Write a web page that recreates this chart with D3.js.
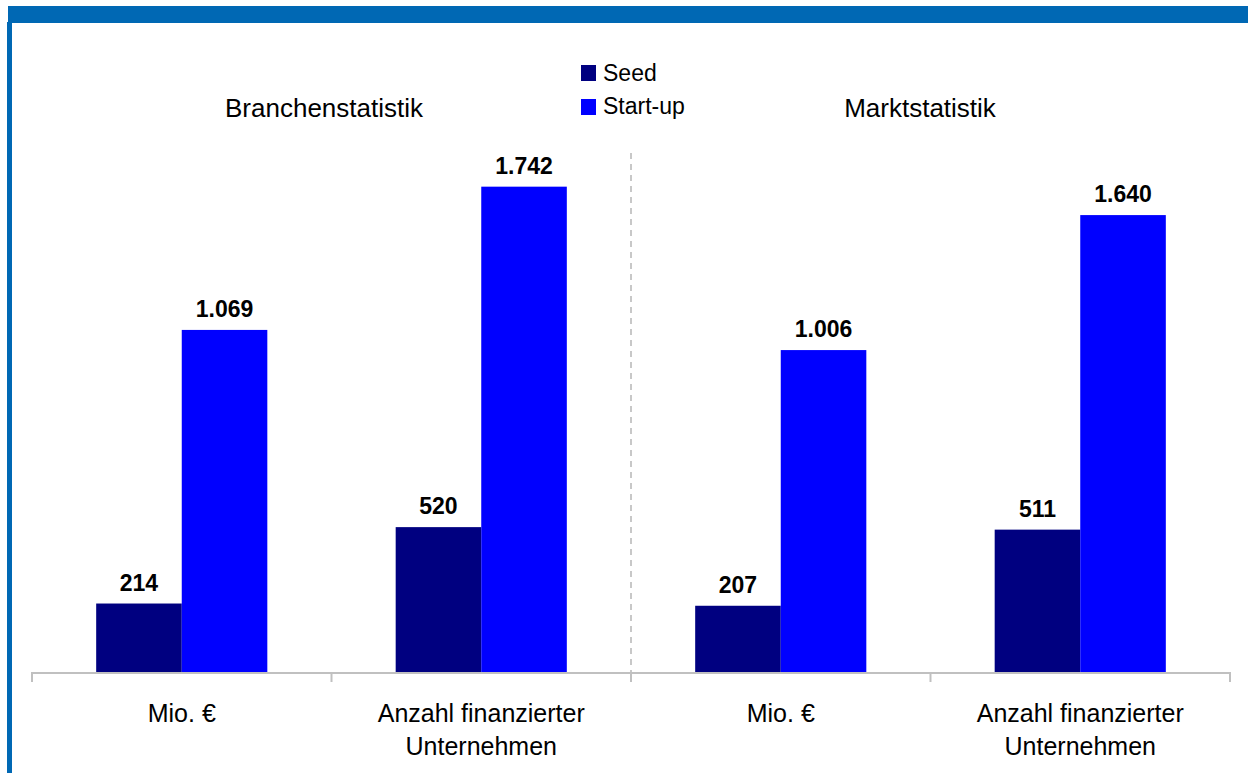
<!DOCTYPE html>
<html>
<head>
<meta charset="utf-8">
<script src="https://cdn.jsdelivr.net/npm/d3@7"></script>
<style>
  body { margin: 0; background: #fff; }
  svg { display: block; font-family: Arial, "Liberation Sans", sans-serif; }
</style>
</head>
<body>
<script>
// chart data
const categories = ["Mio. €", "Anzahl finanzierter Unternehmen", "Mio. €", "Anzahl finanzierter Unternehmen"];
const categoryLines = [["Mio. €"], ["Anzahl finanzierter", "Unternehmen"], ["Mio. €"], ["Anzahl finanzierter", "Unternehmen"]];
const units = ["mio", "anzahl", "mio", "anzahl"];
const groups = ["Branchenstatistik", "Marktstatistik"];
const seriesNames = ["Seed", "Start-up"];
const seed = [214, 520, 207, 511];
const startup = [1069, 1742, 1006, 1640];

const width = 1248;
const height = 773;
const baseY = 672;
const topY = 112;
const colors = ["#000080", "#0000ff"];

const svg = d3.select("body").append("svg").attr("width", width).attr("height", height);

// frame (blue band on top and left)
svg.append("rect").attr("x", 8).attr("y", 6).attr("width", width - 8).attr("height", 17).attr("fill", "#0068b4");
svg.append("rect").attr("x", 7).attr("y", 22).attr("width", 5).attr("height", height - 22).attr("fill", "#0068b4");

//Scales
const xScale = d3.scaleBand().domain(d3.range(categories.length)).range([32, 1230]).padding(0);
const x1 = d3.scaleBand().domain(seriesNames).range([0, xScale.bandwidth()]).paddingInner(0).paddingOuter(0.75);
const yScales = {
  mio: d3.scaleLinear().domain([0, 1750]).range([baseY, topY]),
  anzahl: d3.scaleLinear().domain([0, 2010]).range([baseY, topY])
};

const fmt = d3.formatLocale({ decimal: ",", thousands: ".", grouping: [3], currency: ["", " €"] }).format(",");

const rows = categories.map((c, i) => ({ i, unit: units[i], values: [seed[i], startup[i]] }));

// bars
const g = svg.selectAll(".cat").data(rows).enter().append("g")
  .attr("class", "cat")
  .attr("transform", (d) => "translate(" + xScale(d.i) + ",0)");

g.selectAll("rect.bar")
  .data((d) => d.values.map((v, k) => ({ v, k, unit: d.unit })))
  .enter()
  .append("rect")
  .attr("class", "bar")
  .attr("x", (d) => x1(seriesNames[d.k]))
  .attr("width", x1.bandwidth())
  .attr("y", (d) => yScales[d.unit](d.v))
  .attr("height", (d) => baseY - yScales[d.unit](d.v))
  .attr("fill", (d) => colors[d.k]);

g.selectAll("text.val")
  .data((d) => d.values.map((v, k) => ({ v, k, unit: d.unit })))
  .enter()
  .append("text")
  .attr("class", "val")
  .attr("x", (d) => x1(seriesNames[d.k]) + x1.bandwidth() / 2)
  .attr("y", (d) => yScales[d.unit](d.v) - 13)
  .attr("text-anchor", "middle")
  .attr("font-size", 23)
  .attr("font-weight", "bold")
  .attr("fill", "#000")
  .text((d) => fmt(d.v));

// x axis
svg.append("line")
  .attr("x1", xScale.range()[0]).attr("x2", xScale.range()[1])
  .attr("y1", baseY + 1).attr("y2", baseY + 1)
  .attr("stroke", "#c0c0c0").attr("stroke-width", 2);

const tickXs = d3.range(categories.length).map((i) => xScale(i)).concat([xScale.range()[1]]);
svg.selectAll(".tick").data(tickXs).enter().append("line")
  .attr("class", "tick")
  .attr("x1", (d) => d).attr("x2", (d) => d)
  .attr("y1", baseY).attr("y2", baseY + 10)
  .attr("stroke", "#c0c0c0").attr("stroke-width", 2);

svg.selectAll(".catlabel").data(rows).enter().append("text")
  .attr("class", "catlabel")
  .attr("text-anchor", "middle")
  .attr("font-size", 25)
  .attr("fill", "#000")
  .attr("transform", (d) => "translate(" + (xScale(d.i) + xScale.bandwidth() / 2) + ",722)")
  .selectAll("tspan")
  .data((d) => categoryLines[d.i])
  .enter()
  .append("tspan")
  .attr("x", 0)
  .attr("dy", (d, k) => (k === 0 ? 0 : 33))
  .text((d) => d);

// dashed separator between the two statistics
const sepX = xScale(2);
svg.append("line")
  .attr("x1", sepX).attr("x2", sepX)
  .attr("y1", 153).attr("y2", baseY)
  .attr("stroke", "#c8c8c8").attr("stroke-width", 2)
  .attr("stroke-dasharray", "6,5");

// group titles
svg.selectAll(".grouptitle").data(groups).enter().append("text")
  .attr("class", "grouptitle")
  .attr("x", (d, i) => (i === 0 ? 324 : 920))
  .attr("y", 117)
  .attr("text-anchor", "middle")
  .attr("font-size", 26)
  .attr("fill", "#000")
  .text((d) => d);

//Legend
const legend = svg.append("g").attr("transform", "translate(581,65)");
seriesNames.forEach((name, i) => {
  legend.append("rect").attr("x", 0).attr("y", i * 34).attr("width", 15).attr("height", 16).attr("fill", colors[i]);
  legend.append("text").attr("x", 22).attr("y", i * 33 + 16).attr("font-size", 23).attr("fill", "#000").text(name);
});
</script>
</body>
</html>
